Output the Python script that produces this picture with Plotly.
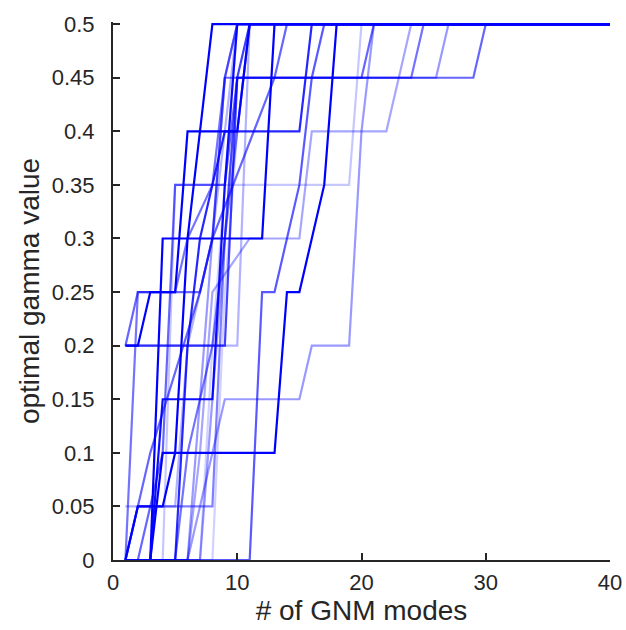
import plotly.graph_objects as go

# breakpoints of each curve (# modes, optimal gamma); straight segments in between
modes_01 = [1, 3, 4, 13, 14, 15, 17, 18, 40]
gamma_01 = [0, 0, 0.1, 0.1, 0.25, 0.25, 0.35, 0.5, 0.5]
modes_02 = [1, 2, 4, 5, 6, 8, 40]
gamma_02 = [0, 0.05, 0.05, 0.1, 0.3, 0.5, 0.5]
modes_03 = [1, 2, 3, 5, 6, 10, 11, 40]
gamma_03 = [0.2, 0.2, 0.25, 0.25, 0.4, 0.4, 0.5, 0.5]
modes_04 = [1, 3, 4, 12, 13, 40]
gamma_04 = [0, 0, 0.3, 0.3, 0.5, 0.5]
modes_05 = [1, 3, 4, 8, 9, 10, 40]
gamma_05 = [0, 0, 0.15, 0.15, 0.35, 0.5, 0.5]
modes_06 = [1, 5, 6, 7, 9, 15, 16, 40]
gamma_06 = [0, 0, 0.2, 0.3, 0.4, 0.4, 0.5, 0.5]
modes_07 = [1, 11, 12, 13, 15, 16, 17, 40]
gamma_07 = [0, 0, 0.25, 0.25, 0.35, 0.45, 0.5, 0.5]
modes_08 = [1, 6, 7, 8, 9, 15, 16, 19, 20, 21, 40]
gamma_08 = [0, 0, 0.05, 0.1, 0.15, 0.15, 0.2, 0.2, 0.4, 0.5, 0.5]
modes_09 = [1, 2, 7, 8, 9, 29, 30, 40]
gamma_09 = [0.2, 0.25, 0.25, 0.3, 0.45, 0.45, 0.5, 0.5]
modes_10 = [1, 4, 5, 19, 20, 40]
gamma_10 = [0, 0, 0.35, 0.35, 0.5, 0.5]
modes_11 = [1, 5, 6, 8, 9, 10, 40]
gamma_11 = [0.05, 0.05, 0.2, 0.3, 0.4, 0.5, 0.5]
modes_12 = [1, 7, 8, 9, 10, 40]
gamma_12 = [0, 0, 0.2, 0.35, 0.5, 0.5]
modes_13 = [1, 8, 9, 10, 11, 40]
gamma_13 = [0, 0, 0.25, 0.4, 0.5, 0.5]
modes_14 = [1, 6, 7, 8, 9, 10, 40]
gamma_14 = [0, 0, 0.15, 0.3, 0.45, 0.5, 0.5]
modes_15 = [1, 2, 5, 6, 8, 9, 10, 40]
gamma_15 = [0, 0.25, 0.25, 0.3, 0.35, 0.45, 0.5, 0.5]
modes_16 = [1, 5, 6, 8, 9, 10, 24, 25, 40]
gamma_16 = [0, 0, 0.1, 0.2, 0.3, 0.45, 0.45, 0.5, 0.5]
modes_17 = [1, 7, 8, 9, 10, 26, 27, 40]
gamma_17 = [0, 0, 0.15, 0.3, 0.45, 0.45, 0.5, 0.5]
modes_18 = [1, 6, 7, 8, 11, 15, 16, 22, 23, 24, 40]
gamma_18 = [0, 0, 0.1, 0.25, 0.3, 0.3, 0.4, 0.4, 0.45, 0.5, 0.5]
modes_19 = [1, 2, 3, 7, 8, 13, 14, 40]
gamma_19 = [0, 0.05, 0.1, 0.25, 0.3, 0.45, 0.5, 0.5]
modes_20 = [1, 2, 8, 9, 10, 11, 40]
gamma_20 = [0, 0.05, 0.05, 0.3, 0.4, 0.5, 0.5]
modes_21 = [1, 2, 4, 5, 9, 10, 20, 21, 40]
gamma_21 = [0, 0, 0.1, 0.35, 0.35, 0.45, 0.45, 0.5, 0.5]
modes_22 = [1, 9, 10, 11, 40]
gamma_22 = [0.2, 0.2, 0.45, 0.5, 0.5]
modes_23 = [1, 2, 3, 10, 11, 40]
gamma_23 = [0.2, 0.2, 0.2, 0.2, 0.5, 0.5]

curves = [
    (modes_01, gamma_01, 1.0), (modes_02, gamma_02, 1.0),
    (modes_03, gamma_03, 1.0), (modes_04, gamma_04, 1.0),
    (modes_05, gamma_05, 0.95), (modes_06, gamma_06, 0.85),
    (modes_07, gamma_07, 0.65), (modes_08, gamma_08, 0.4),
    (modes_09, gamma_09, 0.6), (modes_10, gamma_10, 0.22),
    (modes_11, gamma_11, 0.3), (modes_12, gamma_12, 0.18),
    (modes_13, gamma_13, 0.18), (modes_14, gamma_14, 0.4),
    (modes_15, gamma_15, 0.55), (modes_16, gamma_16, 0.55),
    (modes_17, gamma_17, 0.4), (modes_18, gamma_18, 0.35),
    (modes_19, gamma_19, 0.6), (modes_20, gamma_20, 0.5),
    (modes_21, gamma_21, 0.6), (modes_22, gamma_22, 0.75),
    (modes_23, gamma_23, 0.3),
]

fig = go.Figure()
# faint curves first so the bold ones sit on top
for xs, ys, a in sorted(curves, key=lambda c: c[2]):
    fig.add_trace(go.Scatter(x=xs, y=ys, mode="lines",
                             line=dict(color=f"rgba(0,0,255,{a})", width=2.2),
                             showlegend=False, hoverinfo="skip"))

ink = "#262626"
axis_style = dict(showline=True, linecolor=ink, linewidth=2,
                  ticks="inside", ticklen=7, tickwidth=2, tickcolor=ink,
                  showgrid=False, zeroline=False, mirror=False, automargin=False,
                  tickfont=dict(size=22, color=ink))

fig.update_xaxes(range=[0, 40], tickvals=[0, 10, 20, 30, 40], ticklabelstandoff=2,
                 title=dict(text="# of GNM modes", font=dict(size=28, color=ink), standoff=4),
                 **axis_style)
fig.update_yaxes(range=[0, 0.502], tickvals=[0, 0.05, 0.1, 0.15, 0.2, 0.25, 0.3, 0.35, 0.4, 0.45, 0.5],
                 ticktext=["0", "0.05", "0.1", "0.15", "0.2", "0.25", "0.3", "0.35", "0.4", "0.45", "0.5"],
                 ticklabelstandoff=12,
                 title=dict(text="optimal gamma value", font=dict(size=28, color=ink), standoff=4),
                 **axis_style)

fig.update_layout(width=626, height=630, plot_bgcolor="white", paper_bgcolor="white",
                  font=dict(family="Liberation Sans, Arial, sans-serif"),
                  margin=dict(l=113, r=16, t=22, b=70))

# drop the default page margin so the figure fills the window exactly
fig.write_html("out.html", config={"displayModeBar": False},
               post_script="document.body.style.margin='0';")
